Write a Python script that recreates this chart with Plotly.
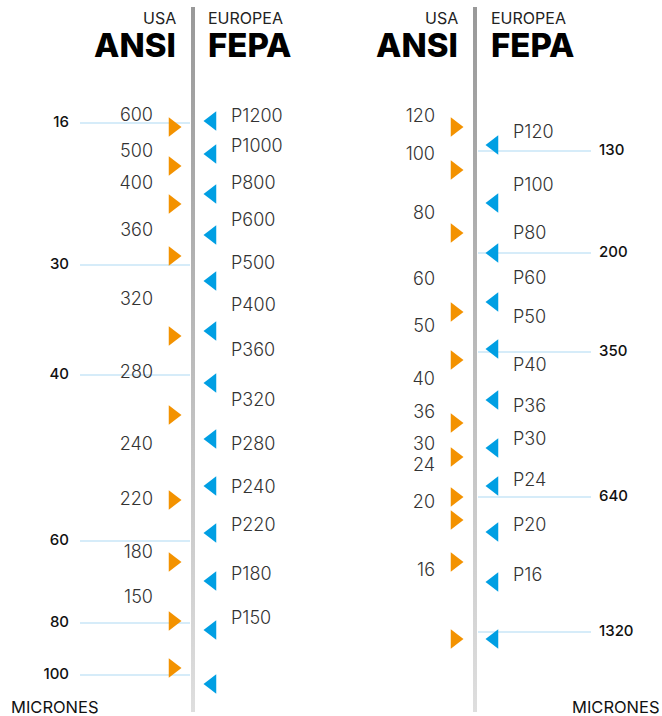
import plotly.graph_objects as go

# ---------------- data (vertical position of each item on the chart) ----------------
# Left panel
L_ansi_labels = ["600", "500", "400", "360", "320", "280", "240", "220", "180", "150"]
L_ansi_label_pos = [116, 152, 184, 231, 300, 373, 445, 500, 553, 598]
L_ansi_marks = [127, 166, 204, 256, 336, 415, 500, 562, 621, 668]
L_fepa_labels = ["P1200", "P1000", "P800", "P600", "P500", "P400", "P360",
                 "P320", "P280", "P240", "P220", "P180", "P150"]
L_fepa_label_pos = [117, 147, 184, 221, 264, 306, 351, 401, 445, 488, 526, 575, 619]
L_fepa_marks = [121, 154, 194, 235, 281, 331, 383, 439, 486, 533, 581, 630, 684]
L_micron_labels = ["16", "30", "40", "60", "80", "100"]
L_micron_pos = [123, 265, 375, 541, 623, 675]

# Right panel
R_ansi_labels = ["120", "100", "80", "60", "50", "40", "36", "30", "24", "20", "16"]
R_ansi_label_pos = [117, 155, 214, 280, 327, 380, 413, 445, 466, 503, 571]
R_ansi_marks = [127, 170, 233, 312, 360, 423, 457, 497, 520, 562, 639]
R_fepa_labels = ["P120", "P100", "P80", "P60", "P50", "P40", "P36", "P30", "P24", "P20", "P16"]
R_fepa_label_pos = [133, 186, 234, 279, 318, 366, 407, 440, 481, 526, 576]
R_fepa_marks = [145, 203, 253, 302, 349, 400, 448, 486, 532, 582, 639]
R_micron_labels = ["130", "200", "350", "640", "1320"]
R_micron_pos = [151, 253, 352, 497, 632]

# ---------------- styles / layout constants ----------------
W, H = 662, 716
FONT = "Inter, 'Open Sans', sans-serif"
ORANGE = "#f39200"
BLUE = "#009fe3"
LINE_BLUE = "#c8e6f7"
TXT = "#333333"
BAR_TOP, BAR_BOTTOM = 7, 712

panels = [
    dict(bar=193, orange=173, blue=212, ansi_x=153, fepa_x=231,
         mline=(80, 190), mlabel_x=69, mlabel_side="middle left",
         usa_x=177, eu_x=207,
         ansi=(L_ansi_labels, L_ansi_label_pos, L_ansi_marks),
         fepa=(L_fepa_labels, L_fepa_label_pos, L_fepa_marks),
         mic=(L_micron_labels, L_micron_pos)),
    dict(bar=475, orange=455, blue=494, ansi_x=435, fepa_x=513,
         mline=(478, 591), mlabel_x=599, mlabel_side="middle right",
         usa_x=459, eu_x=490,
         ansi=(R_ansi_labels, R_ansi_label_pos, R_ansi_marks),
         fepa=(R_fepa_labels, R_fepa_label_pos, R_fepa_marks),
         mic=(R_micron_labels, R_micron_pos)),
]

fig = go.Figure()
annotations = []

for p in panels:
    # micron reference lines
    mlabels, mpos = p["mic"]
    xs, ys = [], []
    for v in mpos:
        xs += [p["mline"][0], p["mline"][1], None]
        ys += [v, v, None]
    fig.add_trace(go.Scatter(x=xs, y=ys, mode="lines",
                             line=dict(color=LINE_BLUE, width=1.5),
                             hoverinfo="skip", showlegend=False))
    # micron labels
    fig.add_trace(go.Scatter(x=[p["mlabel_x"]] * len(mpos), y=mpos, mode="text",
                             text=mlabels, textposition=p["mlabel_side"],
                             textfont=dict(family=FONT, size=15, color="#111111", weight=500),
                             hoverinfo="skip", showlegend=False))
    # gradient bar
    b = p["bar"]
    fig.add_trace(go.Scatter(x=[b - 2, b + 2, b + 2, b - 2, b - 2],
                             y=[BAR_TOP, BAR_TOP, BAR_BOTTOM, BAR_BOTTOM, BAR_TOP],
                             mode="lines", line=dict(width=0), fill="toself",
                             fillgradient=dict(type="vertical", start=BAR_TOP, stop=BAR_BOTTOM,
                                               colorscale=[[0, "#999999"], [1, "#dedede"]]),
                             hoverinfo="skip", showlegend=False))
    # ANSI
    alab, apos, amark = p["ansi"]
    fig.add_trace(go.Scatter(x=[p["orange"]] * len(amark), y=amark, mode="markers",
                             marker=dict(symbol="triangle-right", size=17, color=ORANGE,
                                         line=dict(width=0)),
                             hoverinfo="skip", showlegend=False))
    fig.add_trace(go.Scatter(x=[p["ansi_x"]] * len(apos), y=apos, mode="text",
                             text=alab, textposition="middle left",
                             textfont=dict(family=FONT, size=18, color=TXT, weight=300),
                             hoverinfo="skip", showlegend=False))
    # FEPA
    flab, fpos, fmark = p["fepa"]
    fig.add_trace(go.Scatter(x=[p["blue"]] * len(fmark), y=fmark, mode="markers",
                             marker=dict(symbol="triangle-left", size=17, color=BLUE,
                                         line=dict(width=0)),
                             hoverinfo="skip", showlegend=False))
    fig.add_trace(go.Scatter(x=[p["fepa_x"]] * len(fpos), y=fpos, mode="text",
                             text=flab, textposition="middle right",
                             textfont=dict(family=FONT, size=18, color=TXT, weight=300),
                             hoverinfo="skip", showlegend=False))
    # headers
    annotations += [
        dict(x=p["usa_x"], y=18, text="USA", xanchor="right", yanchor="middle",
             font=dict(family=FONT, size=16, color="#222222", weight=400)),
        dict(x=p["usa_x"], y=45, text="ANSI", xanchor="right", yanchor="middle",
             font=dict(family=FONT, size=33, color="#000000", weight=800)),
        dict(x=p["eu_x"], y=18, text="EUROPEA", xanchor="left", yanchor="middle",
             font=dict(family=FONT, size=16, color="#222222", weight=400)),
        dict(x=p["eu_x"], y=45, text="FEPA", xanchor="left", yanchor="middle",
             font=dict(family=FONT, size=33, color="#000000", weight=800)),
    ]

annotations += [
    dict(x=10, y=707, text="MICRONES", xanchor="left", yanchor="middle",
         font=dict(family=FONT, size=16.5, color="#111111", weight=400)),
    dict(x=661, y=707, text="MICRONES", xanchor="right", yanchor="middle",
         font=dict(family=FONT, size=16.5, color="#111111", weight=400)),
]
for a in annotations:
    a.update(xref="x", yref="y", showarrow=False, borderpad=0)

fig.update_layout(
    width=W, height=H,
    margin=dict(l=0, r=0, t=0, b=0),
    paper_bgcolor="white", plot_bgcolor="white",
    xaxis=dict(range=[0, W], visible=False, fixedrange=True),
    yaxis=dict(range=[H, 0], visible=False, fixedrange=True),
    annotations=annotations, showlegend=False,
)

fig.write_html(
    "out.html",
    config={"displayModeBar": False},
    post_script="document.body.style.margin='0';document.body.style.overflow='hidden';",
)
